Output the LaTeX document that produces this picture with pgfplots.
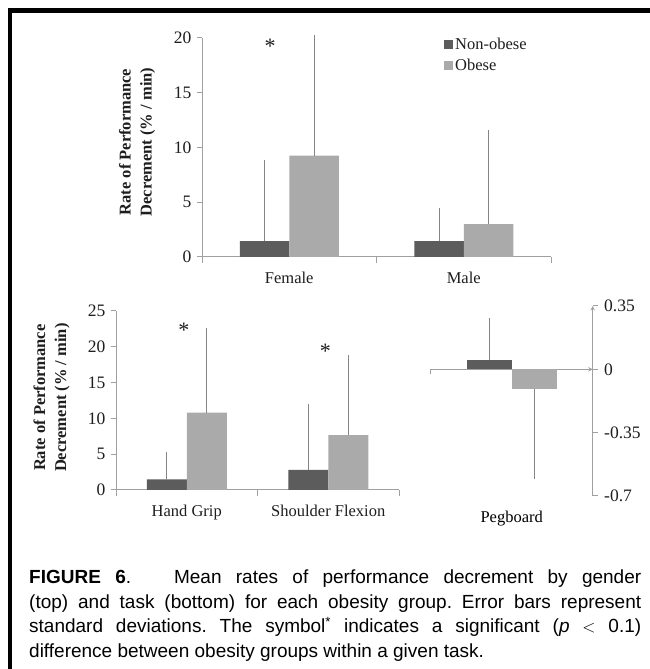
\documentclass[border=0pt]{standalone}
\usepackage{fontspec}
\setmainfont{Liberation Serif}
\newfontfamily\capfont{Liberation Sans}
\usepackage{pgfplots}
\pgfplotsset{compat=1.18}
\definecolor{darkbar}{HTML}{5C5C5C}
\definecolor{lightbar}{HTML}{AAAAAA}
\definecolor{axgray}{HTML}{A0A0A0}
\definecolor{errgray}{HTML}{858585}
\definecolor{txt}{HTML}{1E1E1E}
\newcommand{\chfont}{\fontsize{16.5}{18}\selectfont}
\newcommand{\tkfont}{\fontsize{17.5}{18}\selectfont}
\newcommand{\stfont}{\fontsize{22}{22}\selectfont}
\pgfplotsset{
  myax/.style={
    scale only axis, clip=false,
    ybar=0pt,
    axis line style={draw=axgray, line width=1pt, -},
    tick style={draw=axgray, line width=1pt},
    tick align=outside,
    major tick length=5pt, minor tick length=6pt,
    ticklabel style={font=\tkfont, text=txt},
    xticklabel style={font=\chfont},
    label style={text=txt},
    error bars/error bar style={draw=errgray, line width=1pt},
    error bars/error mark options={draw=errgray, line width=1pt, mark size=3pt},
  },
}
\begin{document}
\begin{tikzpicture}[x=1pt,y=1pt]
\useasboundingbox (0,0) rectangle (649,669);
\fill[white] (0,0) rectangle (649,669);
% frame
\draw[line width=4.5pt, black] (10,-10) -- (10,658.7) -- (670,658.7);

% ---------------- top chart: gender ----------------
\begin{axis}[myax, at={(202pt,412pt)}, anchor=south west,
  width=349pt, height=219pt,
  xmin=-0.5, xmax=1.5, ymin=0, ymax=20,
  axis x line*=bottom, axis y line*=left,
  xtick={0,1}, xticklabels={Female,Male},
  major x tick style={draw=none},
  minor xtick={-0.5,0.5,1.5},
  xticklabel style={yshift=-7pt},
  yticklabel style={xshift=-2pt},
  ytick={0,5,10,15,20}, yticklabels={0,5,10,15,20},
  bar width=49.5pt,
  ylabel={Rate of Performance\\Decrement (\% / min)},
  ylabel style={at={(axis description cs:-0.134,0.525)}, anchor=south,
    align=center, inner sep=0pt, font=\bfseries\fontsize{16.5}{21}\selectfont},
  legend style={at={(axis description cs:0.692,1.012)}, anchor=north west,
    draw=none, fill=none, font=\chfont, text=txt, inner sep=0pt,
    row sep=4.5pt},
  legend cell align=left,
  legend image code/.code={\fill[#1,draw=none] (0pt,-4.5pt) rectangle (9.5pt,4.5pt);},
]
\addplot[fill=darkbar, draw=none,
  error bars/.cd, y dir=plus, y explicit]
  coordinates {(0,1.46) +- (0,7.1) (1,1.46) +- (0,2.75)};
\addplot[fill=lightbar, draw=none,
  error bars/.cd, y dir=plus, y explicit]
  coordinates {(0,9.25) +- (0,10.75) (1,3.0) +- (0,8.3)};
\legend{Non-obese,Obese}
\node[font=\stfont, text=txt] at (axis cs:-0.11,19.2) {*};
\end{axis}

% ---------------- bottom-left chart: tasks ----------------
\begin{axis}[myax, at={(116pt,179pt)}, anchor=south west,
  width=283pt, height=179.3pt,
  xmin=-0.5, xmax=1.5, ymin=0, ymax=25,
  axis x line*=bottom, axis y line*=left,
  xtick={0,1}, xticklabels={Hand Grip,Shoulder Flexion},
  major x tick style={draw=none},
  minor xtick={-0.5,0.5,1.5},
  xticklabel style={yshift=-7pt},
  yticklabel style={xshift=-2pt},
  ytick={0,5,10,15,20,25}, yticklabels={0,5,10,15,20,25},
  bar width=40pt,
  ylabel={Rate of Performance\\Decrement (\% / min)},
  ylabel style={at={(axis description cs:-0.163,0.515)}, anchor=south,
    align=center, inner sep=0pt, font=\bfseries\fontsize{16.5}{21}\selectfont},
]
\addplot[fill=darkbar, draw=none,
  error bars/.cd, y dir=plus, y explicit]
  coordinates {(0,1.49) +- (0,3.4) (1,2.8) +- (0,8.75)};
\addplot[fill=lightbar, draw=none,
  error bars/.cd, y dir=plus, y explicit]
  coordinates {(0,10.8) +- (0,11.35) (1,7.65) +- (0,10.75)};
\node[font=\stfont, text=txt] at (axis cs:-0.02,22.3) {*};
\node[font=\stfont, text=txt] at (axis cs:0.98,19.4) {*};
\end{axis}

% ---------------- bottom-right chart: pegboard ----------------
\begin{axis}[myax, at={(430.7pt,173pt)}, anchor=south west,
  width=162pt, height=190pt,
  xmin=-0.5, xmax=0.5, ymin=-0.7, ymax=0.35,
  axis x line=middle, axis y line=right,
  tick align=outside,
  xtick={-0.5}, xticklabels={},
  ytick={-0.7,-0.35,0,0.35}, yticklabels={-0.7,-0.35,0,0.35},
  yticklabel style={xshift=3pt},
  bar width=45pt,
  xlabel={Pegboard},
  xlabel style={at={(axis description cs:0.5,0)}, anchor=north, yshift=-12pt,
    font=\chfont},
]
\addplot[fill=darkbar, draw=none,
  error bars/.cd, y dir=plus, y explicit]
  coordinates {(0,0.054) +- (0,0.213)};
\addplot[fill=lightbar, draw=none,
  error bars/.cd, y dir=minus, y explicit]
  coordinates {(0,-0.11) +- (0,0.48)};
\end{axis}

% ---------------- caption ----------------
\node[anchor=north west, inner sep=0pt, text width=612pt, align=justify,
  font=\capfont\fontsize{19}{24.5}\selectfont\frenchspacing, text=black] at (29,99)
{\textbf{FIGURE 6}.\ \ \ Mean rates of performance decrement by gender\linebreak
(top) and task (bottom) for each obesity group. Error bars represent\linebreak
standard deviations. The symbol\textsuperscript{*} indicates a significant (\textit{p} $<$ 0.1)\linebreak
difference between obesity groups within a given task.};
\end{tikzpicture}
\end{document}
